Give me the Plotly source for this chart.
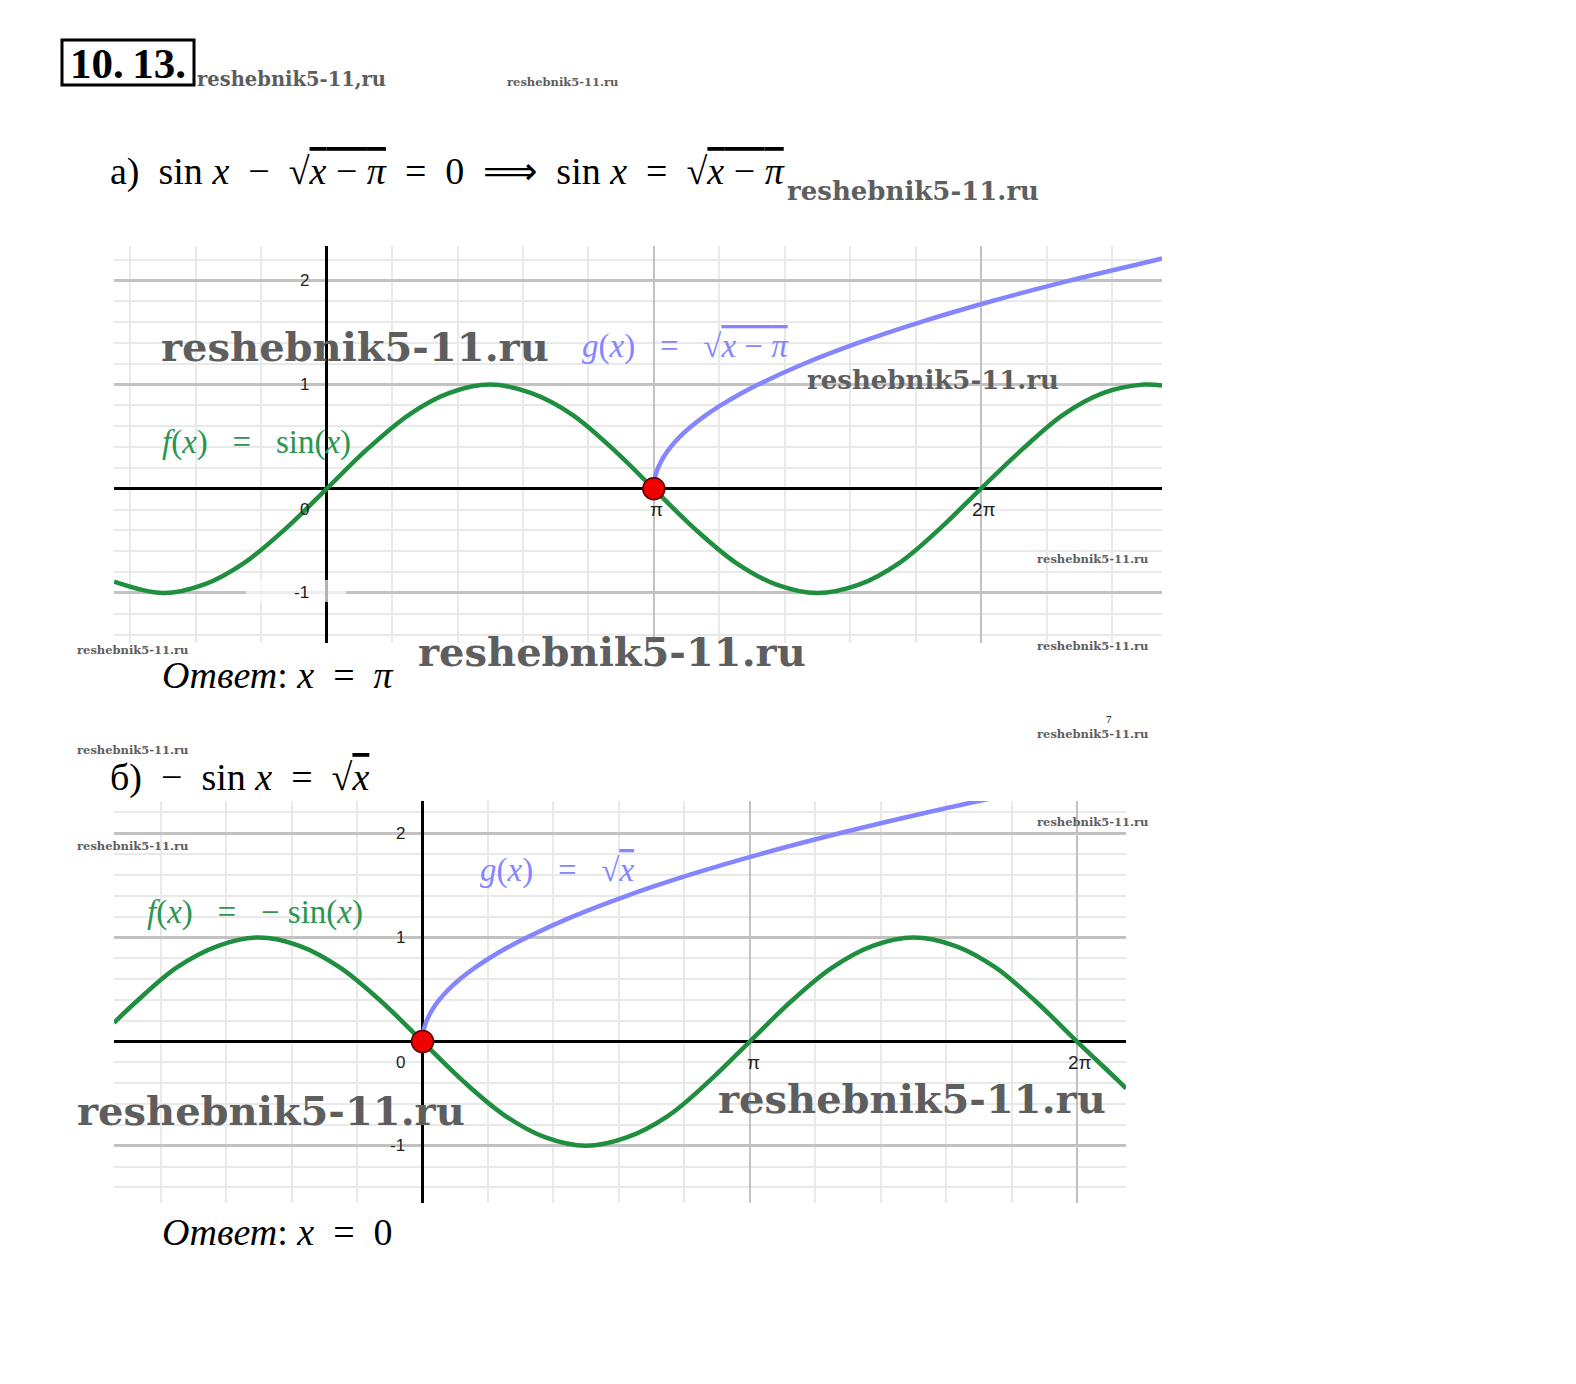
import plotly.graph_objects as go

PAGE_W, PAGE_H = 1576, 1384
OFF = 8                      # default body margin of the html page
FW, FH = PAGE_W - 2 * OFF, PAGE_H - 2 * OFF

# ---------------- data ----------------
# Part a): f(x) = sin(x), g(x) = sqrt(x - pi)
a_sin_x = [-2.04, -1.57, -1.18, -0.79, -0.39, 0.0, 0.39, 0.79, 1.18, 1.57, 1.96, 2.36, 2.75,
           3.14, 3.53, 3.93, 4.32, 4.71, 5.11, 5.50, 5.89, 6.28, 6.68, 7.07, 7.46, 7.85, 8.02]
a_sin_y = [-0.89, -1.0, -0.92, -0.71, -0.38, 0.0, 0.38, 0.71, 0.92, 1.0, 0.92, 0.71, 0.38,
           0.0, -0.38, -0.71, -0.92, -1.0, -0.92, -0.71, -0.38, 0.0, 0.38, 0.71, 0.92, 1.0, 0.99]
a_sqrt_x = [3.142, 3.144, 3.152, 3.164, 3.182, 3.232, 3.302, 3.392, 3.502, 3.632, 3.782, 3.952,
            4.142, 4.582, 5.102, 5.702, 6.382, 7.142, 7.982, 8.02]
a_sqrt_y = [0.0, 0.05, 0.1, 0.15, 0.2, 0.3, 0.4, 0.5, 0.6, 0.7, 0.8, 0.9,
            1.0, 1.2, 1.4, 1.6, 1.8, 2.0, 2.2, 2.21]
a_root = [3.1416, 0.0]

# Part b): f(x) = -sin(x), g(x) = sqrt(x)
b_sin_x = [-2.96, -2.75, -2.36, -1.96, -1.57, -1.18, -0.79, -0.39, 0.0, 0.39, 0.79, 1.18, 1.57,
           1.96, 2.36, 2.75, 3.14, 3.53, 3.93, 4.32, 4.71, 5.11, 5.50, 5.89, 6.28, 6.68, 6.75]
b_sin_y = [0.18, 0.38, 0.71, 0.92, 1.0, 0.92, 0.71, 0.38, 0.0, -0.38, -0.71, -0.92, -1.0,
           -0.92, -0.71, -0.38, 0.0, 0.38, 0.71, 0.92, 1.0, 0.92, 0.71, 0.38, 0.0, -0.38, -0.45]
b_sqrt_x = [0.0, 0.0025, 0.01, 0.0225, 0.04, 0.09, 0.16, 0.25, 0.36, 0.49, 0.64, 0.81,
            1.0, 1.44, 1.96, 2.56, 3.24, 4.0, 4.84, 5.76]
b_sqrt_y = [0.0, 0.05, 0.1, 0.15, 0.2, 0.3, 0.4, 0.5, 0.6, 0.7, 0.8, 0.9,
            1.0, 1.2, 1.4, 1.6, 1.8, 2.0, 2.2, 2.4]
b_root = [0.0, 0.0]

y_tick_vals = [2, 1, 0, -1]
y_tick_text = ["2", "1", "0", "-1"]
x_tick_vals = [3.1416, 6.2832]
x_tick_text = ["π", "2π"]

PI = 3.141592653589793

# ---------------- styling ----------------
GREEN = "#1f8e3e"
GREEN_TXT = "#2a9650"
BLUE = "#8585ff"
WM = "#5e5e5e"
NB = "\u00a0"


def px(x):
    return (x - OFF) / FW


def py(y):
    return 1 - (y - OFF) / FH


fig = go.Figure()

# traces, part a
fig.add_trace(go.Scatter(x=a_sin_x, y=a_sin_y, mode="lines", line=dict(color=GREEN, width=4.5, shape="spline"),
                         xaxis="x", yaxis="y", hoverinfo="skip"))
fig.add_trace(go.Scatter(x=a_sqrt_x, y=a_sqrt_y, mode="lines", line=dict(color=BLUE, width=4.5, shape="spline"),
                         xaxis="x", yaxis="y", hoverinfo="skip"))
fig.add_trace(go.Scatter(x=[a_root[0]], y=[a_root[1]], mode="markers",
                         marker=dict(color="#f00000", size=22, line=dict(color="#5a0000", width=1.5)),
                         xaxis="x", yaxis="y", cliponaxis=False, hoverinfo="skip"))
# traces, part b
fig.add_trace(go.Scatter(x=b_sin_x, y=b_sin_y, mode="lines", line=dict(color=GREEN, width=4.5, shape="spline"),
                         xaxis="x2", yaxis="y2", hoverinfo="skip"))
fig.add_trace(go.Scatter(x=b_sqrt_x, y=b_sqrt_y, mode="lines", line=dict(color=BLUE, width=4.5, shape="spline"),
                         xaxis="x2", yaxis="y2", hoverinfo="skip"))
fig.add_trace(go.Scatter(x=[b_root[0]], y=[b_root[1]], mode="markers",
                         marker=dict(color="#f00000", size=22, line=dict(color="#5a0000", width=1.5)),
                         xaxis="x2", yaxis="y2", cliponaxis=False, hoverinfo="skip"))


def xaxis_style(dom, rng, anchor):
    return dict(domain=dom, range=rng, anchor=anchor, showgrid=True, gridcolor="#c2c2c2", gridwidth=1.5,
                tick0=0, dtick=PI, showticklabels=False, ticks="",
                zeroline=True, zerolinecolor="black", zerolinewidth=2.5, showline=False,
                minor=dict(tick0=0, dtick=PI / 5, showgrid=True, gridcolor="#e9e9e9", gridwidth=1.5, ticks=""),
                fixedrange=True)


def yaxis_style(dom, rng, anchor):
    return dict(domain=dom, range=rng, anchor=anchor, showgrid=True, gridcolor="#c2c2c2", gridwidth=2.5,
                tick0=0, dtick=1, showticklabels=False, ticks="",
                zeroline=True, zerolinecolor="black", zerolinewidth=2.5, showline=False,
                minor=dict(tick0=0, dtick=0.2, showgrid=True, gridcolor="#e9e9e9", gridwidth=1.5, ticks=""),
                fixedrange=True)


fig.update_layout(
    width=FW, height=FH, margin=dict(l=0, r=0, t=0, b=0),
    paper_bgcolor="white", plot_bgcolor="white", showlegend=False,
    xaxis=xaxis_style([px(113.6), px(1162)], [-2.045, 8.02], "y"),
    yaxis=yaxis_style([py(643), py(246)], [-1.48, 2.33], "x"),
    xaxis2=xaxis_style([px(114), px(1126)], [-2.96, 6.75], "y2"),
    yaxis2=yaxis_style([py(1203), py(801)], [-1.55, 2.31], "x2"),
)

ann = []


def text(x, y, s, size, color="black", family="Liberation Serif", xanchor="left"):
    ann.append(dict(x=px(x), y=py(y), xref="paper", yref="paper", text=s, showarrow=False,
                    xanchor=xanchor, yanchor="middle", font=dict(size=size, color=color, family=family)))


def wm(x, y, size, s="reshebnik5-11.ru"):
    text(x, y, "<b>" + s + "</b>", size, color=WM, family="DejaVu Serif")


# tick labels (data coordinates)
for ax_x, ax_y in (("x", "y"), ("x2", "y2")):
    for v, t in zip(y_tick_vals, y_tick_text):
        ann.append(dict(x=-0.15, y=(v if v != 0 else -0.2), xref=ax_x, yref=ax_y, text=t, showarrow=False,
                        xanchor="right", yanchor="middle", font=dict(size=17, color="#222", family="Liberation Sans")))
    for v, t in zip(x_tick_vals, x_tick_text):
        ann.append(dict(x=v + 0.03, y=-0.2, xref=ax_x, yref=ax_y, text=t, showarrow=False,
                        xanchor="center", yanchor="middle", font=dict(size=19, color="#222", family="Liberation Sans")))

OL = '<span style="text-decoration:overline">'
S2 = " " + NB
SP3 = "   "

# header
text(68, 63, "<b>10.\u200913.</b>", 43)
wm(195, 80, 19.5, "reshebnik5-11,ru")
wm(505, 82, 11.5)

# part a
text(108, 171, "a)" + S2 + "sin <i>x</i>" + S2 + "−" + S2 + "√" + OL + "<i>x</i> − <i>π</i></span>" + S2 + "=" + S2
     + "0" + S2 + "⟹" + S2 + "sin <i>x</i>" + S2 + "=" + S2 + "√" + OL + "<i>x</i> − <i>π</i></span>", 38)
wm(785, 191, 26)
wm(159, 347, 40)
text(580, 347, "<i>g</i>(<i>x</i>)" + SP3 + "=" + SP3 + "√" + OL + "<i>x</i> − <i>π</i></span>", 33, color=BLUE)
wm(805, 380, 26)
text(160, 442, "<i>f</i>(<i>x</i>)" + SP3 + "=" + SP3 + "sin(<i>x</i>)", 33, color=GREEN_TXT)
wm(1035, 559, 11.5)
wm(75, 650, 11.5)
wm(1035, 646, 11.5)
wm(416, 651, 40)
text(160, 675, "<i>Ответ</i>:" + NB + "<i>x</i>" + S2 + "=" + S2 + "<i>π</i>", 38)
text(1104, 719, "7", 11)
wm(1035, 734, 11.5)

# part b
wm(75, 750, 11.5)
text(108, 777, "б)" + S2 + "−" + S2 + "sin <i>x</i>" + S2 + "=" + S2 + "√" + OL + "<i>x</i></span>", 38)
wm(1035, 822, 11.5)
wm(75, 846, 11.5)
text(478, 870, "<i>g</i>(<i>x</i>)" + SP3 + "=" + SP3 + "√" + OL + "<i>x</i></span>", 33, color=BLUE)
text(145, 912, "<i>f</i>(<i>x</i>)" + SP3 + "=" + SP3 + "−" + NB + "sin(<i>x</i>)", 33, color=GREEN_TXT)
wm(75, 1110, 40)
wm(716, 1098, 40)
text(160, 1232, "<i>Ответ</i>:" + NB + "<i>x</i>" + S2 + "=" + S2 + "0", 38)

fig.update_layout(annotations=ann)

# boxed number and white patch around "-1" in the first plot
fig.add_shape(type="rect", xref="paper", yref="paper", x0=px(62), x1=px(194), y0=py(85), y1=py(40),
              line=dict(color="black", width=3), fillcolor="rgba(0,0,0,0)")
fig.add_shape(type="rect", xref="paper", yref="paper", x0=px(246), x1=px(346), y0=py(602), y1=py(580),
              line=dict(width=0), fillcolor="rgba(255,255,255,0.7)", layer="above")

fig.write_html("out.html")
